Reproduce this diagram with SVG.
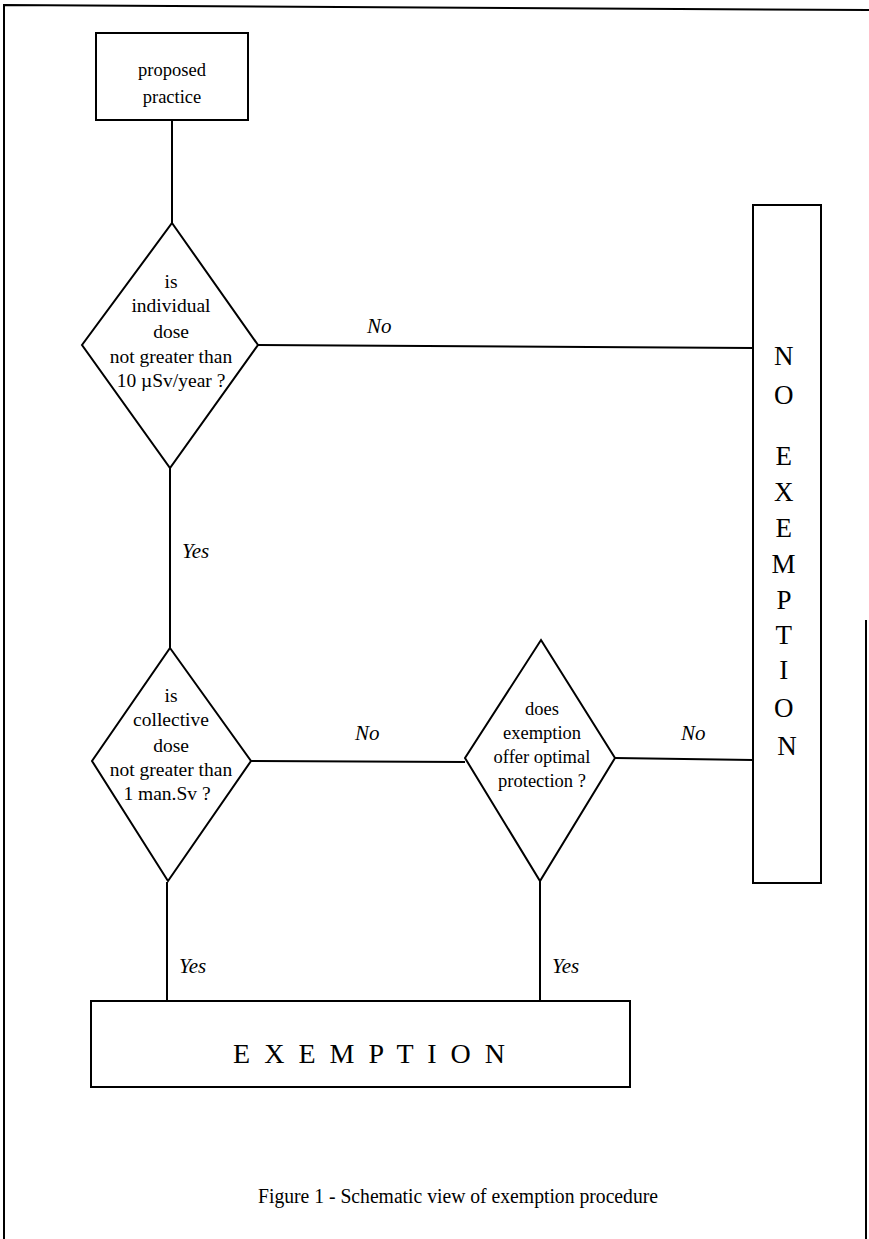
<svg xmlns="http://www.w3.org/2000/svg" width="869" height="1239" viewBox="0 0 869 1239">
<style>
.ln{stroke:#000;stroke-width:2;fill:none}
.shp{stroke:#000;stroke-width:2;fill:#fff}
.t{font-family:"Liberation Serif","Times New Roman",serif;fill:#000}
.n{font-size:19.5px;text-anchor:middle}
.n3{font-size:18.5px;text-anchor:middle}
.lab{font-size:21px;font-style:italic}
.big{font-size:27px;text-anchor:middle}
</style>
<rect width="869" height="1239" fill="#fff"/>
<g id="frame">
<polyline class="ln" points="4,1239 4,5 869,10" stroke-width="1.5"/>
<line class="ln" x1="866" y1="620" x2="866" y2="1239" stroke-width="1"/>
</g>
<g id="connectors">
<line class="ln" x1="172" y1="120" x2="172" y2="223"/>
<line class="ln" x1="258" y1="345" x2="753" y2="348"/>
<line class="ln" x1="170" y1="468" x2="170" y2="648"/>
<line class="ln" x1="251" y1="761" x2="465" y2="762"/>
<line class="ln" x1="615" y1="758" x2="753" y2="760"/>
<line class="ln" x1="167" y1="882" x2="167" y2="1001"/>
<line class="ln" x1="540" y1="881" x2="540" y2="1001"/>
<text class="t lab" x="367" y="333">No</text>
<text class="t lab" x="355" y="740">No</text>
<text class="t lab" x="681" y="740">No</text>
<text class="t lab" x="182" y="558">Yes</text>
<text class="t lab" x="179" y="973">Yes</text>
<text class="t lab" x="552" y="973">Yes</text>
</g>
<g id="proposed">
<rect class="shp" x="96" y="33" width="152" height="87"/>
<text class="t" x="172" y="76" font-size="18.5" text-anchor="middle">proposed</text>
<text class="t" x="172" y="103" font-size="18.5" text-anchor="middle">practice</text>
</g>
<g id="decision1">
<polygon class="shp" points="172,223 258,345 170,468 82,345"/>
<text class="t n" x="171" y="288">is</text>
<text class="t n" x="171" y="312">individual</text>
<text class="t n" x="171" y="338">dose</text>
<text class="t n" x="171" y="363">not greater than</text>
<text class="t n" x="171" y="387">10 µSv/year ?</text>
</g>
<g id="decision2">
<polygon class="shp" points="170,648 251,761 168,881 92,761"/>
<text class="t n" x="171" y="702">is</text>
<text class="t n" x="171" y="726">collective</text>
<text class="t n" x="171" y="752">dose</text>
<text class="t n" x="171" y="776">not greater than</text>
<text class="t n" x="167" y="800">1 man.Sv ?</text>
</g>
<g id="decision3">
<polygon class="shp" points="541,640 615,758 540,881 465,758"/>
<text class="t n3" x="542" y="715">does</text>
<text class="t n3" x="542" y="739">exemption</text>
<text class="t n3" x="542" y="763">offer optimal</text>
<text class="t n3" x="542" y="787">protection ?</text>
</g>
<g id="noexemption">
<rect class="shp" x="753" y="205" width="68" height="678"/>
<text class="t big" x="787">
<tspan x="787" y="365">N</tspan>
<tspan x="787" y="404">O</tspan>
<tspan x="787" y="465">E</tspan>
<tspan x="787" y="501">X</tspan>
<tspan x="787" y="537">E</tspan>
<tspan x="787" y="573">M</tspan>
<tspan x="787" y="609">P</tspan>
<tspan x="787" y="644">T</tspan>
<tspan x="787" y="679">I</tspan>
<tspan x="787" y="717">O</tspan>
<tspan x="787" y="755">N</tspan>
</text>
</g>
<g id="exemption">
<rect class="shp" x="91" y="1001" width="539" height="86"/>
<text class="t" x="233" y="1063" font-size="28" textLength="272" lengthAdjust="spacing">E X E M P T I O N</text>
</g>
<g id="caption">
<text class="t" x="258" y="1203" font-size="20" textLength="400" lengthAdjust="spacingAndGlyphs">Figure 1 - Schematic view of exemption procedure</text>
</g>
</svg>
